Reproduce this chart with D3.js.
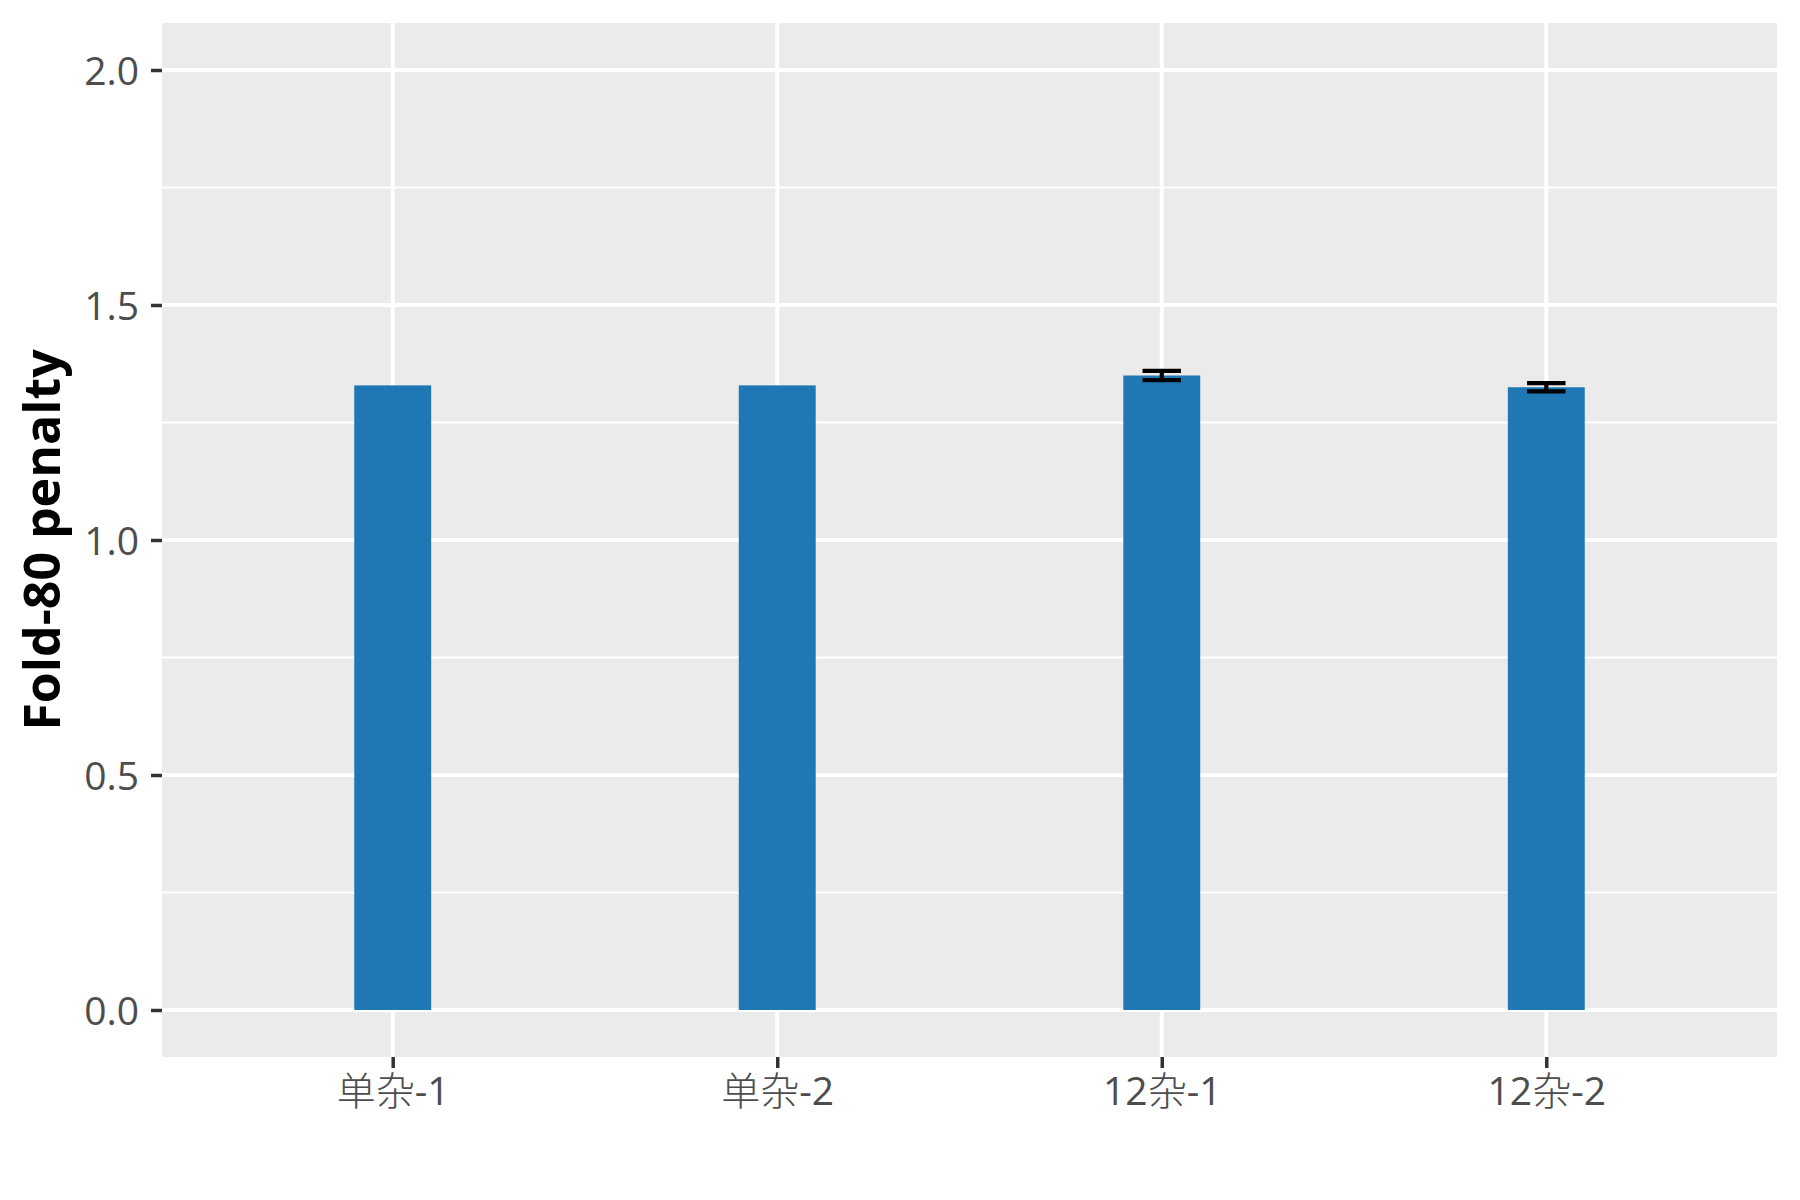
<!DOCTYPE html>
<html>
<head>
<meta charset="utf-8">
<script src="https://cdn.jsdelivr.net/npm/d3@7"></script>
<style>
  body { margin: 0; background: #fff; }
  text { font-family: "Open Sans", "Noto Sans CJK SC", sans-serif; }
</style>
</head>
<body>
<svg id="chart"></svg>
<script>
// data
const categories = ["单杂-1", "单杂-2", "12杂-1", "12杂-2"];
const values = [1.329, 1.329, 1.350, 1.325];
const errors = [0, 0, 0.0099, 0.0086];
const yTicks = [0, 0.5, 1.0, 1.5, 2.0];
const yMinor = [0.25, 0.75, 1.25, 1.75];

const width = 1800, height = 1200;
const margin = { top: 23, right: 23, bottom: 143, left: 162 };
const innerW = width - margin.left - margin.right;
const innerH = height - margin.top - margin.bottom;

const svg = d3.select("#chart").attr("width", width).attr("height", height);
const g = svg.append("g").attr("transform", `translate(${margin.left},${margin.top})`);

// discrete x scale with ggplot-like 0.6 expansion
const x = d3.scalePoint().domain(categories).range([0, innerW]).padding(0.6);
const step = x.step();
const y = d3.scaleLinear().domain([-0.1, 2.1]).range([innerH, 0]);

g.append("rect").attr("width", innerW).attr("height", innerH).attr("fill", "#EBEBEB");

g.selectAll(".minor").data(yMinor).join("line")
  .attr("x1", 0).attr("x2", innerW)
  .attr("y1", d => y(d)).attr("y2", d => y(d))
  .attr("stroke", "#fff").attr("stroke-width", 2);

g.selectAll(".hmajor").data(yTicks).join("line")
  .attr("x1", 0).attr("x2", innerW)
  .attr("y1", d => y(d)).attr("y2", d => y(d))
  .attr("stroke", "#fff").attr("stroke-width", 4);

g.selectAll(".vmajor").data(categories).join("line")
  .attr("x1", d => x(d)).attr("x2", d => x(d))
  .attr("y1", 0).attr("y2", innerH)
  .attr("stroke", "#fff").attr("stroke-width", 4);

const barW = step * 0.2;
g.selectAll(".bar").data(values).join("rect")
  .attr("x", (d, i) => x(categories[i]) - barW / 2)
  .attr("y", d => y(d))
  .attr("width", barW)
  .attr("height", d => y(0) - y(d))
  .attr("fill", "#1F77B4");

// error bars
const errW = step * 0.1;
const eb = g.selectAll(".err").data(values.map((v, i) => ({ v, e: errors[i], c: categories[i] })).filter(d => d.e > 0))
  .join("g").attr("stroke", "#000").attr("stroke-width", 4.2);
eb.append("line").attr("x1", d => x(d.c) - errW / 2).attr("x2", d => x(d.c) + errW / 2)
  .attr("y1", d => y(d.v + d.e)).attr("y2", d => y(d.v + d.e));
eb.append("line").attr("x1", d => x(d.c) - errW / 2).attr("x2", d => x(d.c) + errW / 2)
  .attr("y1", d => y(d.v - d.e)).attr("y2", d => y(d.v - d.e));
eb.append("line").attr("x1", d => x(d.c)).attr("x2", d => x(d.c))
  .attr("y1", d => y(d.v + d.e)).attr("y2", d => y(d.v - d.e));

// axes
const yAxis = g.append("g")
  .call(d3.axisLeft(y).tickValues(yTicks).tickFormat(d3.format(".1f")).tickSize(11).tickPadding(12));
const xAxis = g.append("g").attr("transform", `translate(0,${innerH})`)
  .call(d3.axisBottom(x).tickSize(11).tickPadding(6));

[yAxis, xAxis].forEach(a => {
  a.select(".domain").remove();
  a.selectAll(".tick line").attr("stroke", "#333").attr("stroke-width", 3.5);
  a.selectAll(".tick text").attr("fill", "#4D4D4D").attr("font-size", 39)
    .style("font-family", '"Open Sans", "Noto Sans CJK SC", sans-serif');
});
yAxis.selectAll(".tick text").attr("dy", "0.36em");

// x labels: CJK part in a lighter weight, like the reference
xAxis.selectAll(".tick text").attr("dy", "0.8em").each(function (d) {
  const t = d3.select(this).text("");
  d.match(/[\u4e00-\u9fff]+|[^\u4e00-\u9fff]+/g).forEach(part => {
    const sp = t.append("tspan").text(part);
    if (/[\u4e00-\u9fff]/.test(part)) sp.attr("font-weight", 200);
  });
});

svg.append("text")
  .attr("transform", `translate(60,${margin.top + innerH / 2}) rotate(-90)`)
  .attr("text-anchor", "middle")
  .attr("font-size", 50)
  .attr("font-weight", "bold")
  .attr("fill", "#000")
  .text("Fold-80 penalty");
</script>
</body>
</html>
